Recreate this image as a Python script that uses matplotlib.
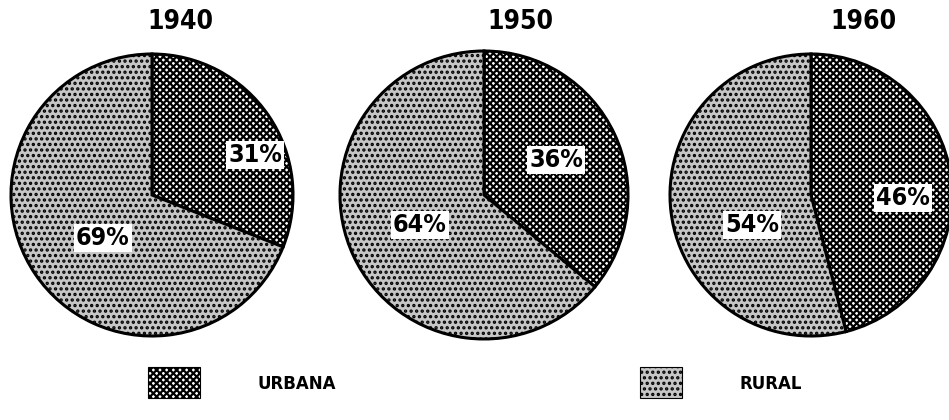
import matplotlib as mpl
import matplotlib.pyplot as plt
from matplotlib.patches import Rectangle

mpl.rcParams.update({"hatch.linewidth": 1.6, "font.family": "DejaVu Sans"})

years = ["1940", "1950", "1960"]
urbana = [31, 36, 46]
rural = [69, 64, 54]
legend_labels = ["URBANA", "RURAL"]

URB_FILL = "#ffffff"
URB_HATCH = "xxxxx"
RUR_FILL = "#c6c6c6"
RUR_HATCH = "..."

H = 420
centers = [(152, 195), (484, 195), (811, 195)]
radii = [141, 144, 141]
title_x = [180, 520, 863]
urb_lbl = [(255, 155), (556, 160), (903, 198)]
rur_lbl = [(103, 238), (420, 225), (752, 225)]

fig = plt.figure(figsize=(9.49, 4.20), dpi=100)
ax = fig.add_axes([0, 0, 1, 1])

txt_kw = dict(ha="center", va="center", fontweight="bold", fontstretch="condensed",
              color="black", zorder=5)
box = dict(boxstyle="square,pad=0.08", facecolor="white", edgecolor="none")

for i, yr in enumerate(years):
    cx, cy = centers[i]
    wedges, _ = ax.pie(
        [urbana[i], rural[i]],
        center=(cx, H - cy),
        radius=radii[i],
        startangle=90,
        counterclock=False,
        colors=[URB_FILL, RUR_FILL],
        wedgeprops=dict(edgecolor="black", linewidth=2.2),
        frame=True,
    )
    wedges[0].set_hatch(URB_HATCH)
    wedges[1].set_hatch(RUR_HATCH)
    ax.text(title_x[i], H - 22, yr, fontsize=19, **txt_kw)
    ax.text(urb_lbl[i][0], H - urb_lbl[i][1], f"{urbana[i]}%", fontsize=18,
            bbox=box, **txt_kw)
    ax.text(rur_lbl[i][0], H - rur_lbl[i][1], f"{rural[i]}%", fontsize=18,
            bbox=box, **txt_kw)

# legend
ax.add_patch(Rectangle((148, H - 398), 52, 31, facecolor=URB_FILL, hatch=URB_HATCH,
                       edgecolor="black", linewidth=0.8))
ax.text(258, H - 384, legend_labels[0], fontsize=12, fontweight="bold",
        ha="left", va="center")
ax.add_patch(Rectangle((640, H - 398), 42, 31, facecolor=RUR_FILL, hatch=RUR_HATCH,
                       edgecolor="black", linewidth=0.8))
ax.text(740, H - 384, legend_labels[1], fontsize=12, fontweight="bold",
        ha="left", va="center")

ax.set_xlim(0, 949)
ax.set_ylim(0, H)
ax.set_aspect("equal")
ax.axis("off")

fig.savefig("out.png", dpi=100)
